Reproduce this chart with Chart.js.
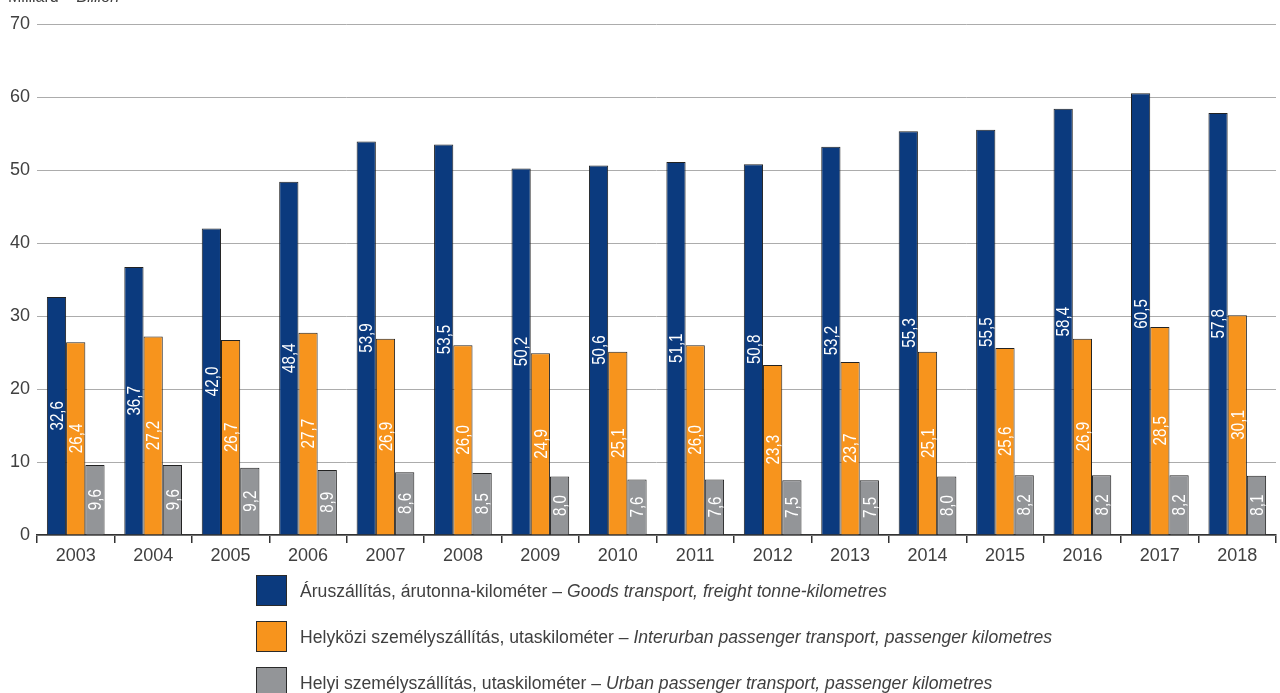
<!DOCTYPE html>
<html>
<head>
<meta charset="utf-8">
<script src="https://cdn.jsdelivr.net/npm/chart.js@4/dist/chart.umd.min.js"></script>
<style>
  html, body { margin: 0; padding: 0; background: #fff; }
  #wrap { width: 1280px; height: 693px; position: relative; }
</style>
</head>
<body>
<div id="wrap"><canvas id="myChart" width="1280" height="693"></canvas></div>
<script>
// data
const years = ["2003","2004","2005","2006","2007","2008","2009","2010","2011","2012","2013","2014","2015","2016","2017","2018"];
const goods = [32.6, 36.7, 42.0, 48.4, 53.9, 53.5, 50.2, 50.6, 51.1, 50.8, 53.2, 55.3, 55.5, 58.4, 60.5, 57.8];
const interurban = [26.4, 27.2, 26.7, 27.7, 26.9, 26.0, 24.9, 25.1, 26.0, 23.3, 23.7, 25.1, 25.6, 26.9, 28.5, 30.1];
const urban = [9.6, 9.6, 9.2, 8.9, 8.6, 8.5, 8.0, 7.6, 7.6, 7.5, 7.5, 8.0, 8.2, 8.2, 8.2, 8.1];
const legendHu = ["Áruszállítás, árutonna-kilométer – ", "Helyközi személyszállítás, utaskilométer – ", "Helyi személyszállítás, utaskilométer – "];
const legendEn = ["Goods transport, freight tonne-kilometres", "Interurban passenger transport, passenger kilometres", "Urban passenger transport, passenger kilometres"];
const unitHu = "Milliárd – ";
const unitEn = "Billion";

const FONT = "'Liberation Sans', Arial, sans-serif";
const TXT = "#404040";
const colors = ["#0b3a7e", "#f7941d", "#939598"];

// value labels inside the bars, rotated
const barLabels = {
  id: "barLabels",
  afterDatasetsDraw(chart) {
    const ctx = chart.ctx;
    chart.data.datasets.forEach((ds, i) => {
      const meta = chart.getDatasetMeta(i);
      meta.data.forEach((bar, j) => {
        const txt = ds.data[j].toFixed(1).replace(".", ",");
        const mid = (bar.y + bar.base) / 2;
        ctx.save();
        ctx.translate(bar.x, mid);
        ctx.rotate(-Math.PI / 2);
        ctx.scale(0.8, 1);
        ctx.font = "19px " + FONT;
        ctx.fillStyle = "#ffffff";
        ctx.textAlign = "center";
        ctx.textBaseline = "middle";
        ctx.fillText(txt, 0, 1);
        ctx.restore();
      });
    });
  }
};

// unit text and legend
const extras = {
  id: "extras",
  afterDraw(chart) {
    const ctx = chart.ctx;
    ctx.save();
    ctx.fillStyle = TXT;
    ctx.textBaseline = "alphabetic";
    ctx.font = "16px " + FONT;
    ctx.fillText(unitHu, 8, 2);
    let w = ctx.measureText(unitHu).width;
    ctx.font = "italic 16px " + FONT;
    ctx.fillText(unitEn, 8 + w, 2);

    for (let i = 0; i < 3; i++) {
      const y = 575 + i * 46;
      ctx.fillStyle = colors[i];
      ctx.fillRect(256, y, 31, 31);
      ctx.strokeStyle = "#2a2a2a";
      ctx.lineWidth = 1;
      ctx.strokeRect(256.5, y + 0.5, 30, 30);
      ctx.fillStyle = TXT;
      ctx.textBaseline = "middle";
      ctx.font = "17.6px " + FONT;
      ctx.fillText(legendHu[i], 300, y + 17);
      const lw = ctx.measureText(legendHu[i]).width;
      ctx.font = "italic 17.6px " + FONT;
      ctx.fillText(legendEn[i], 300 + lw, y + 17);
    }
    ctx.restore();
  }
};

const myChartRef = document.getElementById("myChart").getContext("2d");

new Chart(myChartRef, {
  type: "bar",
  data: {
    labels: years,
    datasets: [
      { label: legendHu[0] + legendEn[0], data: goods, backgroundColor: colors[0] },
      { label: legendHu[1] + legendEn[1], data: interurban, backgroundColor: colors[1] },
      { label: legendHu[2] + legendEn[2], data: urban, backgroundColor: colors[2] }
    ]
  },
  options: {
    responsive: false,
    animation: false,
    layout: { padding: { top: 24, right: 4, left: 0, bottom: 130 } },
    datasets: {
      bar: {
        categoryPercentage: 0.745,
        barPercentage: 1.0,
        borderWidth: 1,
        borderColor: "#222222"
      }
    },
    plugins: {
      legend: { display: false },
      tooltip: { enabled: false }
    },
    scales: {
      x: {
        afterFit(scale) { scale.height = 28; },
        grid: { offset: true, drawOnChartArea: false, drawTicks: true, tickLength: 8, color: "#333", lineWidth: 1.5 },
        border: { color: "#333", width: 1.5 },
        ticks: { color: TXT, font: { family: FONT, size: 18 }, padding: 2 }
      },
      y: {
        min: 0,
        max: 70,
        afterFit(scale) { scale.width = 37; },
        grid: { color: "#acacac", lineWidth: 1, drawTicks: false },
        border: { display: false },
        ticks: { stepSize: 10, color: TXT, font: { family: FONT, size: 18 }, padding: 7 }
      }
    }
  },
  plugins: [barLabels, extras]
});
</script>
</body>
</html>
